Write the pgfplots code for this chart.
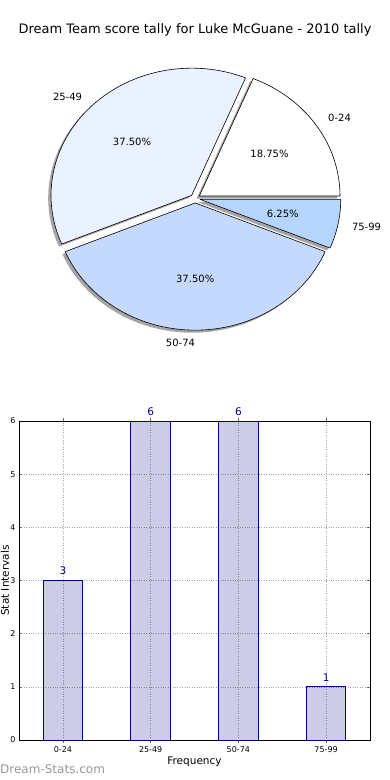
\documentclass[border=0pt]{standalone}
\usepackage{fontspec}
\setmainfont{DejaVu Sans}
\usepackage{pgfplots}
\usepackage{pgfplotstable}
\pgfplotsset{compat=1.18}
\definecolor{cA}{RGB}{255,255,255}
\definecolor{cB}{RGB}{235,242,255}
\definecolor{cC}{RGB}{197,217,255}
\definecolor{cD}{RGB}{181,213,255}
\definecolor{barblue}{RGB}{0,0,128}
\definecolor{wmgray}{RGB}{150,150,150}

\pgfplotstableread{
label count
0-24 3
25-49 6
50-74 6
75-99 1
}\scoretable

\newcommand\pieshadow[2]{%
  \pgfmathsetmacro\pmid{(#1+#2)/2}%
  \pgfmathsetmacro\pox{0.035*cos(\pmid)-0.02}%
  \pgfmathsetmacro\poy{0.035*sin(\pmid)-0.02}%
  \fill[black!70, opacity=0.5] (\pox,\poy) -- plot[domain=#1:#2, samples=90, variable=\t] ({\pox+cos(\t)},{\poy+sin(\t)}) -- cycle;%
}
\newcommand\piewedge[3]{%
  \pgfmathsetmacro\pmid{(#1+#2)/2}%
  \pgfmathsetmacro\pox{0.035*cos(\pmid)}%
  \pgfmathsetmacro\poy{0.035*sin(\pmid)}%
  \filldraw[fill=#3, draw=black, line width=0.6pt, line join=round] (\pox,\poy) -- plot[domain=#1:#2, samples=90, variable=\t] ({\pox+cos(\t)},{\poy+sin(\t)}) -- cycle;%
}
\newcommand\pielabel[5]{% start end anchor label percent
  \pgfmathsetmacro\pmid{(#1+#2)/2}%
  \pgfmathsetmacro\plx{1.135*cos(\pmid)}%
  \pgfmathsetmacro\ply{1.135*sin(\pmid)}%
  \pgfmathsetmacro\ppx{0.635*cos(\pmid)}%
  \pgfmathsetmacro\ppy{0.635*sin(\pmid)}%
  \node[anchor=#3, inner sep=0pt, font=\fontsize{10}{12}\selectfont] at (\plx,\ply) {#4};%
  \node[inner sep=0pt, font=\fontsize{10}{12}\selectfont] at (\ppx,\ppy) {\pgfmathprintnumber[assume math mode=true,fixed,fixed zerofill,precision=2]{#5}\%};%
}

\begin{document}
\begin{tikzpicture}
\pgfplotstablegetelem{0}{count}\of\scoretable\edef\nA{\pgfplotsretval}
\pgfplotstablegetelem{1}{count}\of\scoretable\edef\nB{\pgfplotsretval}
\pgfplotstablegetelem{2}{count}\of\scoretable\edef\nC{\pgfplotsretval}
\pgfplotstablegetelem{3}{count}\of\scoretable\edef\nD{\pgfplotsretval}
\pgfmathsetmacro\nT{\nA+\nB+\nC+\nD}
\pgfmathsetmacro\aA{360*\nA/\nT}
\pgfmathsetmacro\aB{\aA+360*\nB/\nT}
\pgfmathsetmacro\aC{\aB+360*\nC/\nT}
\pgfmathsetmacro\pA{100*\nA/\nT}
\pgfmathsetmacro\pB{100*\nB/\nT}
\pgfmathsetmacro\pC{100*\nC/\nT}
\pgfmathsetmacro\pD{100*\nD/\nT}

\path[use as bounding box] (0pt,0pt) rectangle (390pt,-780pt);

\node[font=\fontsize{13}{15}\selectfont, inner sep=0pt] at (195pt,-30pt) {Dream Team score tally for Luke McGuane - 2010 tally};

% ---- pie ----
\begin{axis}[
  at={(195.2pt,-198.5pt)}, anchor=origin,
  scale only axis, width=281.4pt, height=254.4pt,
  xmin=-1, xmax=1, ymin=-1, ymax=1,
  hide axis, clip=false]
\pgfplotsextra{%
  \pieshadow{0}{\aA}\pieshadow{\aA}{\aB}\pieshadow{\aB}{\aC}\pieshadow{\aC}{360}%
  \piewedge{0}{\aA}{cA}\piewedge{\aA}{\aB}{cB}\piewedge{\aB}{\aC}{cC}\piewedge{\aC}{360}{cD}%
  \pielabel{0}{\aA}{west}{0-24}{\pA}%
  \pielabel{\aA}{\aB}{east}{25-49}{\pB}%
  \pielabel{\aB}{\aC}{east}{50-74}{\pC}%
  \pielabel{\aC}{360}{west}{75-99}{\pD}%
}
\end{axis}

% ---- bars ----
\begin{axis}[
  at={(19pt,-740pt)}, anchor=south west,
  scale only axis, width=351pt, height=319pt,
  xmin=-0.5, xmax=3.5, ymin=0, ymax=6,
  xtick={0,1,2,3}, xticklabels from table={\scoretable}{label},
  ytick={0,1,...,6},
  grid=major, grid style={dotted, black!35, line width=0.6pt},
  tick align=inside, major tick length=3pt,
  tick style={black!60, line width=0.5pt},
  axis line style={black, line width=0.8pt},
  ticklabel style={font=\fontsize{8}{9}\selectfont},
  /pgf/number format/assume math mode=true,
  xlabel={Frequency}, ylabel={Stat Intervals},
  label style={font=\fontsize{10.5}{12}\selectfont},
  xlabel style={at={(axis description cs:0.5,-0.069)}, anchor=center, inner sep=0pt},
  ylabel style={at={(axis description cs:-0.0399,0.5)}, anchor=center, inner sep=0pt},
  ybar, bar width=39.5pt, clip=false,
  nodes near coords,
  every node near coord/.append style={font=\fontsize{10.5}{12}\selectfont, text=barblue, fill opacity=1, text opacity=1, anchor=south, inner sep=0pt, yshift=5pt},
]
\addplot[fill=barblue, fill opacity=0.2, draw=barblue, draw opacity=1, line width=0.8pt]
  table[x expr=\coordindex, y=count] {\scoretable};
\end{axis}

\node[anchor=west, inner sep=0pt, text=wmgray, font=\fontsize{12}{14}\selectfont] at (0pt,-769pt) {Dream-Stats.com};
\end{tikzpicture}
\end{document}
